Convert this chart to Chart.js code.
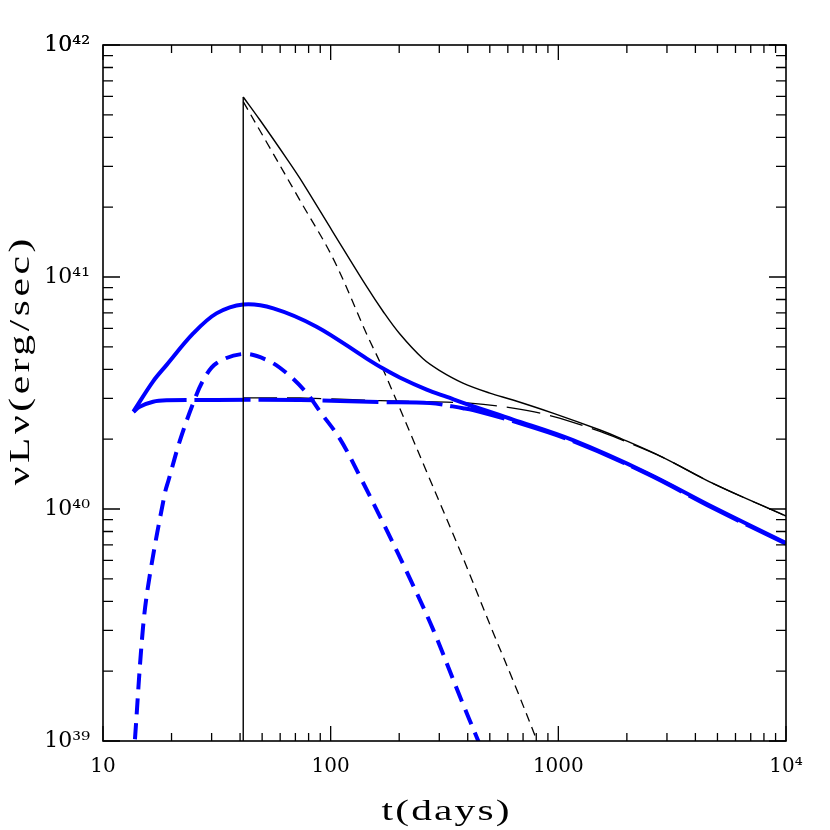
<!DOCTYPE html>
<html>
<head>
<meta charset="utf-8">
<script src="https://cdn.jsdelivr.net/npm/chart.js@4.4.1/dist/chart.umd.min.js"></script>
<style>
  html, body { margin: 0; padding: 0; background: #fff; }
  canvas { display: block; }
</style>
</head>
<body>
<canvas id="lcChart" width="830" height="830"></canvas>
<script>
// axis ticks and labels
const xMajor = [10, 100, 1000, 10000];
const xTickLabels = ['10', '100', '1000', '10⁴'];
const yMajor = [1e39, 1e40, 1e41, 1e42];
const yTickLabels = ['10³⁹', '10⁴⁰', '10⁴¹', '10⁴²'];
const xTitle = 't(days)';
const yTitle = 'νLν(erg/sec)';

// blue model: total (thick solid)
const blueTotalT = [13.6, 16.6, 19.0, 24.9, 31.5, 41.3, 56, 86.7, 144, 170, 201, 264, 324, 409, 632, 1159, 2449, 4772, 10000];
const blueTotalL = [2.63e40, 3.55e40, 4.17e40, 5.71e40, 6.97e40, 7.62e40, 7.33e40, 6.11e40, 4.45e40, 4.03e40,
  3.69e40, 3.27e40, 3.04e40, 2.80e40, 2.43e40, 1.98e40, 1.43e40, 1.02e40, 7.13e39];

// blue model: early bump (thick short dash)
const blueBumpT = [13.6, 13.8, 15.0, 16.1, 18.7, 19.4, 21.8, 24.9, 27.6, 31.5, 41.3, 52.4, 64.1, 78.5, 89.8,
  110, 134.5, 170, 223, 282, 370, 445, 480];
const blueBumpL = [7.94e38, 1.0e39, 3.11e39, 5.28e39, 1.17e40, 1.33e40, 1.98e40, 2.86e40, 3.60e40, 4.25e40,
  4.66e40, 4.39e40, 3.85e40, 3.16e40, 2.63e40, 2.0e40, 1.38e40, 8.71e39, 5.01e39, 3.02e39, 1.55e39, 1.0e39, 8.3e38];

// blue model: slow component (thick long dash)
const blueFlatT = [13.6, 14.5, 16.6, 19.0, 31.5, 73.3, 165, 273, 381, 422, 632, 1159, 2449, 4772, 10000];
const blueFlatL = [2.62e40, 2.76e40, 2.90e40, 2.94e40, 2.95e40, 2.95e40, 2.89e40, 2.86e40, 2.72e40, 2.67e40,
  2.39e40, 1.96e40, 1.42e40, 1.01e40, 7.08e39];

// black model: total (thin solid), rise at t0 then decay
const blackRiseT = [41.3, 41.3];
const blackRiseL = [7e38, 5.97e41];
const blackTotalT = [41.3, 48.9, 64.1, 73.3, 102, 144, 170, 201, 254, 300, 381, 500, 632, 946, 1524, 1866, 2876, 4772, 10000];
const blackTotalL = [5.97e41, 4.75e41, 3.24e41, 2.66e41, 1.57e41, 9.08e40, 7.10e40, 5.69e40, 4.45e40, 3.96e40,
  3.49e40, 3.16e40, 2.95e40, 2.59e40, 2.19e40, 2.02e40, 1.67e40, 1.29e40, 9.33e39];

// black model: fast component (thin short dash)
const blackBumpT = [41.3, 52.4, 73.3, 102.6, 146, 165, 267, 381, 516, 645, 807, 900];
const blackBumpL = [5.70e41, 3.80e41, 2.14e41, 1.20e41, 5.50e40, 4.27e40, 1.41e40, 6.17e39, 2.95e39, 1.74e39,
  1.0e39, 7.59e38];

// black model: slow component (thin long dash)
const blackFlatT = [41.3, 73.3, 165, 254, 409, 632, 946, 1524, 1866, 2876, 4772, 10000];
const blackFlatL = [3.01e40, 3.01e40, 2.93e40, 2.90e40, 2.86e40, 2.72e40, 2.51e40, 2.16e40, 2.00e40, 1.67e40,
  1.29e40, 9.31e39];

function pts(ts, ls) {
  return ts.map((t, i) => ({ x: t, y: ls[i] }));
}

function isPow10(v) {
  const l = Math.log10(v);
  return Math.abs(l - Math.round(l)) < 1e-9;
}

function logTicks(lo, hi) {
  const out = [];
  for (let d = lo; d < hi; d *= 10) {
    for (let k = 1; k < 10; k++) out.push({ value: k * d });
  }
  out.push({ value: hi });
  return out;
}

// wide, thin lettering: a stretch plus a little letter spacing for the rest
function drawWide(ctx, text, cx, baseY, width, angle) {
  const stretch = 1.38;
  ctx.letterSpacing = '0px';
  const w0 = ctx.measureText(text).width;
  const gap = Math.max(0, (width / stretch - w0) / text.length);
  ctx.save();
  ctx.translate(cx, baseY);
  ctx.rotate(angle);
  ctx.scale(stretch, 1);
  ctx.letterSpacing = gap + 'px';
  ctx.textAlign = 'left';
  ctx.textBaseline = 'alphabetic';
  ctx.fillText(text, -(w0 + gap * (text.length - 1)) / 2, 0);
  ctx.restore();
  ctx.letterSpacing = '0px';
}

// frame with inward ticks on all four sides
const frameTicks = {
  id: 'frameTicks',
  afterDraw(chart) {
    const { ctx, chartArea: a, scales: { x, y } } = chart;
    ctx.save();
    ctx.strokeStyle = '#000';
    ctx.lineWidth = 1.3;
    ctx.beginPath();
    x.ticks.forEach((t) => {
      const px = x.getPixelForValue(t.value);
      const len = isPow10(t.value) ? 15 : 8;
      ctx.moveTo(px, a.bottom);
      ctx.lineTo(px, a.bottom - len);
      ctx.moveTo(px, a.top);
      ctx.lineTo(px, a.top + len);
    });
    y.ticks.forEach((t) => {
      const py = y.getPixelForValue(t.value);
      const len = isPow10(t.value) ? 17 : 10;
      ctx.moveTo(a.left, py);
      ctx.lineTo(a.left + len, py);
      ctx.moveTo(a.right, py);
      ctx.lineTo(a.right - len, py);
    });
    ctx.stroke();
    ctx.lineWidth = 1.6;
    ctx.strokeRect(a.left, a.top, a.right - a.left, a.bottom - a.top);
    ctx.restore();
  }
};

const axisTitles = {
  id: 'axisTitles',
  afterDraw(chart) {
    const { ctx, chartArea: a } = chart;
    ctx.save();
    ctx.fillStyle = '#000';
    ctx.font = "30px 'Liberation Serif'";
    drawWide(ctx, xTitle, (a.left + a.right) / 2 + 1, 820, 130, 0);
    drawWide(ctx, yTitle, 29, 362, 250, -Math.PI / 2);
    ctx.restore();
  }
};

Chart.defaults.font.family = "'DejaVu Serif', serif";
Chart.defaults.color = '#000';

const common = { showLine: true, pointRadius: 0, fill: false, tension: 0.35 };

new Chart(document.getElementById('lcChart'), {
  type: 'scatter',
  data: {
    datasets: [
      { ...common, data: pts(blackRiseT, blackRiseL), borderColor: '#000', borderWidth: 1.4,
        tension: 0, order: 0 },
      { ...common, data: pts(blueTotalT, blueTotalL), borderColor: '#0000ff', borderWidth: 4, order: 1 },
      { ...common, data: pts(blueFlatT, blueFlatL), borderColor: '#0000ff', borderWidth: 4,
        borderDash: [56, 8], order: 2 },
      { ...common, data: pts(blueBumpT, blueBumpL), borderColor: '#0000ff', borderWidth: 4,
        borderDash: [16, 9], order: 3 },
      { ...common, data: pts(blackTotalT, blackTotalL), borderColor: '#000', borderWidth: 1.4, order: 4 },
      { ...common, data: pts(blackFlatT, blackFlatL), borderColor: '#000', borderWidth: 1.3,
        borderDash: [34, 10], order: 5 },
      { ...common, data: pts(blackBumpT, blackBumpL), borderColor: '#000', borderWidth: 1.3,
        borderDash: [9, 6], order: 6 }
    ]
  },
  options: {
    responsive: false,
    animation: false,
    layout: { padding: { top: 45, right: 44, left: 0, bottom: 0 } },
    plugins: { legend: { display: false }, tooltip: { enabled: false } },
    scales: {
      x: {
        type: 'logarithmic',
        position: 'bottom',
        min: xMajor[0],
        max: xMajor[xMajor.length - 1],
        grid: { display: false, drawTicks: false },
        border: { display: false },
        afterBuildTicks: (s) => { s.ticks = logTicks(xMajor[0], xMajor[xMajor.length - 1]); },
        afterFit: (s) => { s.height = 89; s.paddingLeft = 0; s.paddingRight = 0; },
        ticks: {
          autoSkip: false,
          maxRotation: 0,
          padding: 14,
          font: { size: 20 },
          callback: (v) => {
            const i = xMajor.findIndex((m) => Math.abs(m - v) / m < 1e-9);
            return i >= 0 ? xTickLabels[i] : '';
          }
        }
      },
      y: {
        type: 'logarithmic',
        position: 'left',
        min: yMajor[0],
        max: yMajor[yMajor.length - 1],
        grid: { display: false, drawTicks: false },
        border: { display: false },
        afterBuildTicks: (s) => { s.ticks = logTicks(yMajor[0], yMajor[yMajor.length - 1]); },
        afterFit: (s) => { s.width = 103; s.paddingTop = 0; s.paddingBottom = 0; },
        ticks: {
          autoSkip: false,
          padding: 13,
          font: { size: 22 },
          callback: (v) => {
            const i = yMajor.findIndex((m) => Math.abs(m - v) / m < 1e-9);
            return i >= 0 ? yTickLabels[i] : '';
          }
        }
      }
    }
  },
  plugins: [frameTicks, axisTitles]
});
</script>
</body>
</html>
